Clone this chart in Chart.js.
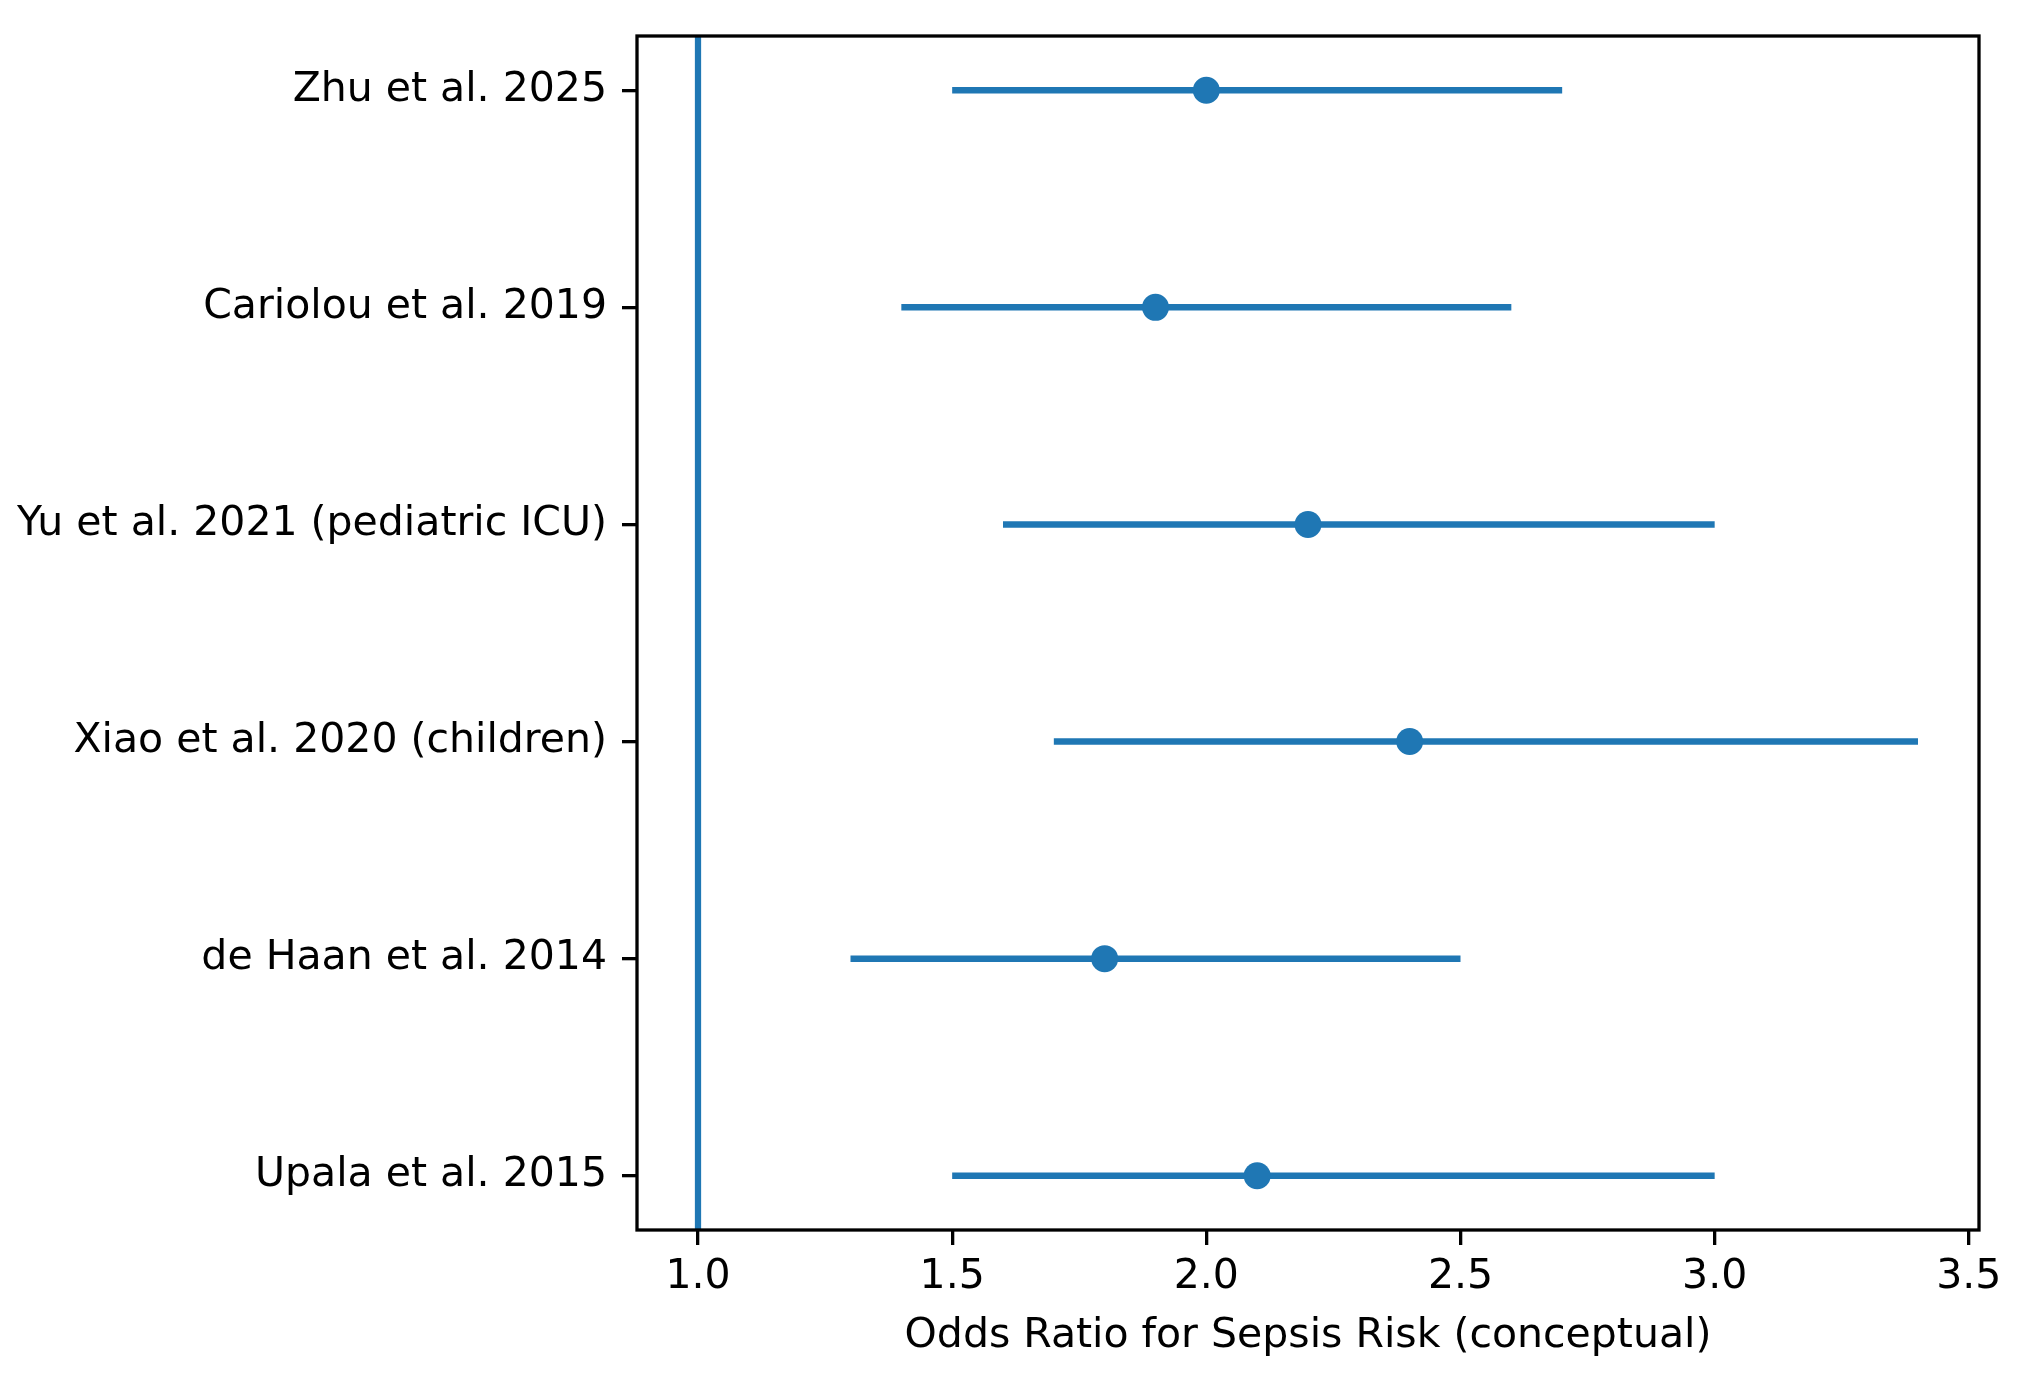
<!DOCTYPE html>
<html>
<head>
<meta charset="utf-8">
<script src="https://cdn.jsdelivr.net/npm/chart.js@4.4.1/dist/chart.umd.min.js"></script>
<style>
  html, body { margin: 0; padding: 0; background: #fff; }
  #wrap { width: 2021px; height: 1378px; }
</style>
</head>
<body>
<div id="wrap"><canvas id="forestChart" width="2021" height="1378"></canvas></div>
<script>
// studies listed top to bottom, as in the figure
const studies = ['Zhu et al. 2025', 'Cariolou et al. 2019', 'Yu et al. 2021 (pediatric ICU)',
                 'Xiao et al. 2020 (children)', 'de Haan et al. 2014', 'Upala et al. 2015'];
const oddsRatio = [2.0, 1.9, 2.2, 2.4, 1.8, 2.1];
const ciLower = [1.5, 1.4, 1.6, 1.7, 1.3, 1.5];
const ciUpper = [2.7, 2.6, 3.0, 3.4, 2.5, 3.0];
const xTicks = [1.0, 1.5, 2.0, 2.5, 3.0, 3.5];
const refLine = 1.0;
const xRange = [0.88, 3.52];
const yRange = [-0.25, 5.25];

const BLUE = '#1f77b4';
Chart.defaults.font.family = 'DejaVu Sans';
Chart.defaults.color = '#000';

// matplotlib style box around the plot area
const framePlugin = {
    id: 'frame',
    afterDraw(chart) {
        const { ctx, chartArea: a } = chart;
        ctx.save();
        ctx.strokeStyle = '#000';
        ctx.lineWidth = 3.3;
        ctx.strokeRect(a.left, a.top, a.right - a.left, a.bottom - a.top);
        ctx.restore();
    }
};

const ciSets = studies.map((s, i) => ({
    type: 'scatter',
    showLine: true,
    data: [{ x: ciLower[i], y: i }, { x: ciUpper[i], y: i }],
    borderColor: BLUE,
    borderWidth: 6.5,
    borderCapStyle: 'butt',
    pointRadius: 0,
    order: 1
}));

const tickGrid = { drawOnChartArea: false, drawTicks: true, tickLength: 15, tickWidth: 3.3, tickColor: '#000', lineWidth: 3.3, color: '#000' };

const ctx = document.getElementById('forestChart');
new Chart(ctx, {
    type: 'scatter',
    data: {
        datasets: [
            {
                data: oddsRatio.map((v, i) => ({ x: v, y: i })),
                backgroundColor: BLUE,
                borderWidth: 0,
                pointRadius: 13.5,
                pointStyle: 'circle',
                order: 0
            },
            ...ciSets,
            {
                showLine: true,
                data: [{ x: refLine, y: yRange[0] }, { x: refLine, y: yRange[1] }],
                borderColor: BLUE,
                borderWidth: 6.25,
                pointRadius: 0,
                order: 2
            }
        ]
    },
    options: {
        responsive: false,
        devicePixelRatio: 1,
        animation: false,
        events: [],
        layout: { padding: { left: 0, right: 42, top: 36, bottom: 0 } },
        plugins: { legend: { display: false }, tooltip: { enabled: false } },
        scales: {
            x: {
                type: 'linear',
                min: xRange[0],
                max: xRange[1],
                afterBuildTicks: s => { s.ticks = xTicks.map(v => ({ value: v })); },
                afterFit: s => { s.height = 1378 - 1230; s.paddingLeft = 0; s.paddingRight = 0; },
                ticks: {
                    padding: 12,
                    font: { size: 41, lineHeight: 1 },
                    callback: v => Number(v).toFixed(1),
                    maxRotation: 0
                },
                grid: tickGrid,
                border: { display: false },
                title: {
                    display: true,
                    text: 'Odds Ratio for Sepsis Risk (conceptual)',
                    font: { size: 41, lineHeight: 1 },
                    padding: { top: 0, bottom: 21 }
                }
            },
            y: {
                type: 'linear',
                reverse: true,
                min: yRange[0],
                max: yRange[1],
                afterBuildTicks: s => { s.ticks = studies.map((_, i) => ({ value: i })); },
                afterFit: s => { s.width = 637; s.paddingTop = 0; s.paddingBottom = 0; },
                ticks: {
                    padding: 15,
                    font: { size: 41, lineHeight: 1.2 },
                    callback: v => studies[v]
                },
                grid: tickGrid,
                border: { display: false }
            }
        }
    },
    plugins: [framePlugin]
});
</script>
</body>
</html>
